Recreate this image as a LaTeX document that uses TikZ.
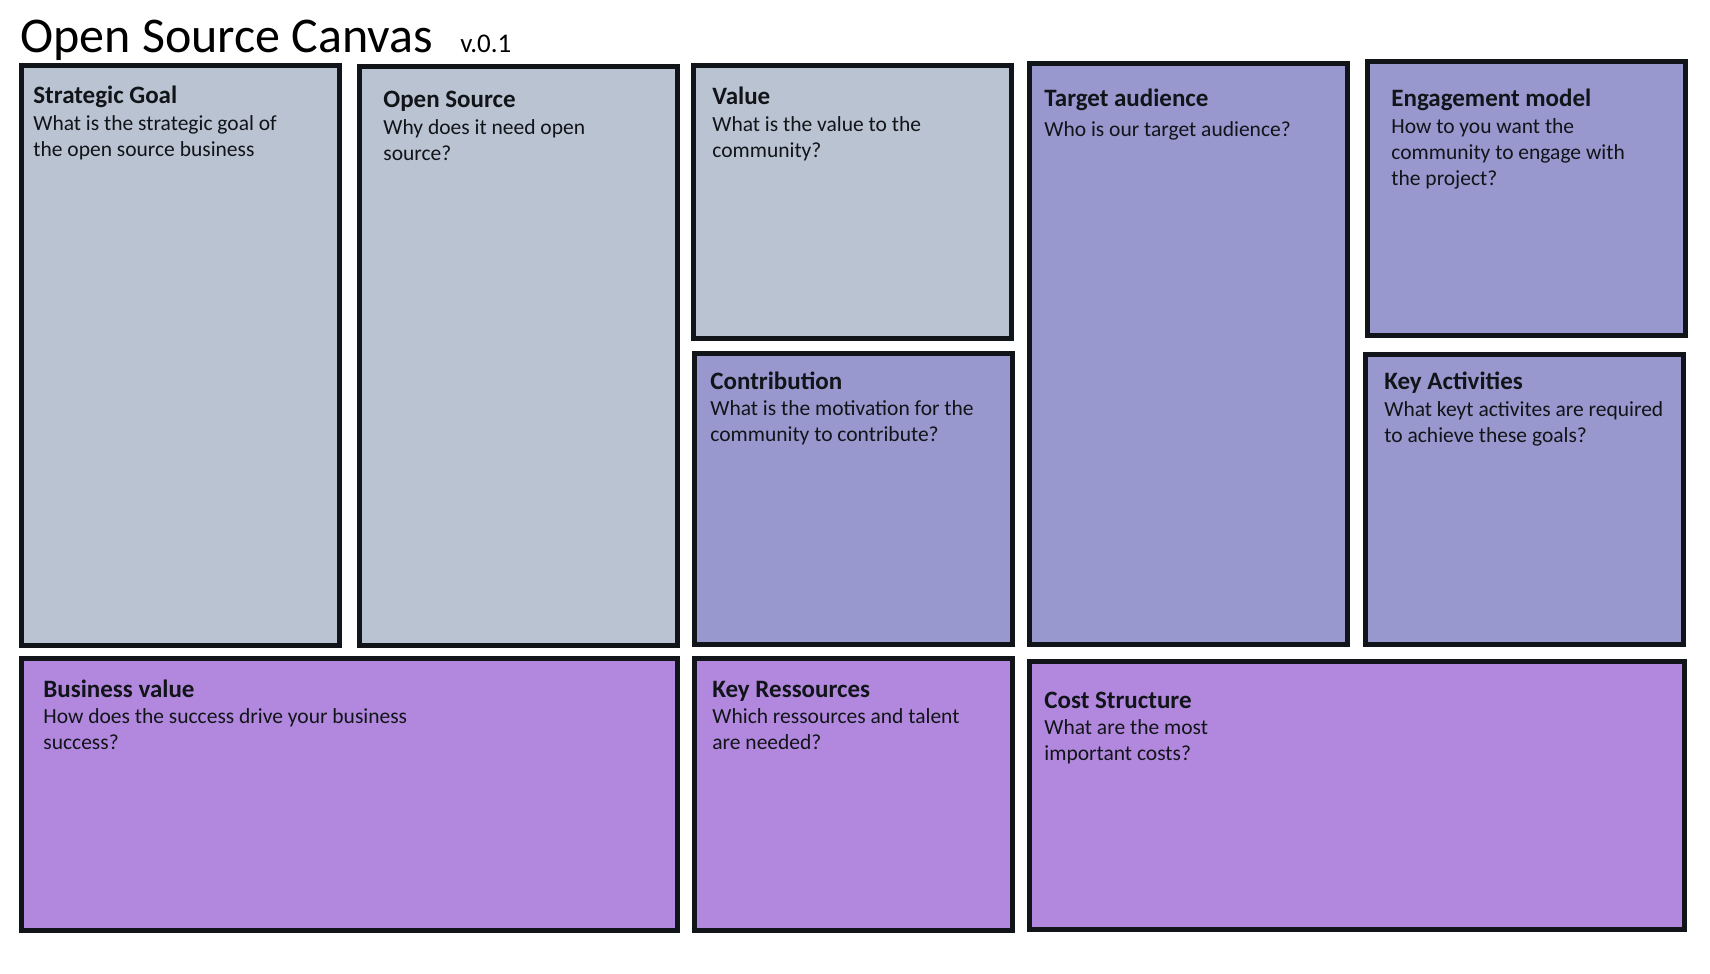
\documentclass[tikz,border=0pt]{standalone}
\usepackage{fontspec}
\setmainfont{Carlito}
\definecolor{ink}     {HTML}{111418}
\definecolor{slate}   {HTML}{BAC3D2}
\definecolor{lavender}{HTML}{9897CE}
\definecolor{orchid}  {HTML}{B288DE}
\begin{document}
\begin{tikzpicture}[
  x=0.5pt, y=0.5pt,
  panel/.style={draw=ink, line width=2.5pt, fill=#1},
  head/.style ={anchor=base west, inner sep=0pt, text=ink,
                font=\fontsize{12.5}{15}\selectfont\bfseries},
  ask/.style  ={anchor=north west, inner sep=0pt, align=left, text=ink,
                font=\fontsize{10.75}{13}\selectfont, execute at begin node=\strut},
]
  \useasboundingbox (0,0) rectangle (1710,-974);

  % --- title line -----------------------------------------------
  \node[anchor=base west, inner sep=0pt, font=\fontsize{25}{30}\selectfont]
    (title) at (20,-53) {Open Source Canvas};
  \node[anchor=base west, inner sep=0pt, font=\fontsize{13.5}{16}\selectfont]
    (version) at (460,-53) {v.0.1};

  % --- the ten panels (outer edges, in pixels) ------------------
  \foreach \xa/\ya/\xb/\yb/\c in {
      19/63/342/648/slate, 357/64/680/648/slate, 691/63/1014/341/slate,
      692/351/1015/647/lavender, 1027/61/1350/647/lavender,
      1365/59/1688/338/lavender, 1363/352/1686/647/lavender,
      19/656/680/933/orchid, 692/656/1015/933/orchid, 1027/659/1687/932/orchid}
    \draw[panel=\c] (\xa+2.5,-\ya-2.5) rectangle (\xb-2.5,-\yb+2.5);

  % --- headings and their questions -----------------------------
  \foreach \n/\x/\h/\t/\q in {
      sg/33/104/{Strategic Goal}/{What is the strategic goal of\\the open source business},
      os/383/107.5/{Open Source}/{Why does it need open\\source?},
      val/712/105/{Value}/{What is the value to the\\community?},
      con/710/389/{Contribution}/{What is the motivation for the\\community to contribute?},
      aud/1044/107/{Target audience}/{Who is our target audience?},
      eng/1391/107/{Engagement model}/{How to you want the\\community to engage with\\the project?},
      act/1384/389.5/{Key Activities}/{What keyt activites are required\\to achieve these goals?},
      biz/43/697/{Business value}/{How does the success drive your business\\success?},
      res/712/697/{Key Ressources}/{Which ressources and talent\\are needed?},
      cost/1044/708/{Cost Structure}/{What are the most\\important costs?}}
  {
    \node[head] (\n-t) at (\x,-\h) {\t};
    \node[ask]  (\n-q) at (\x,-\h-11.3) {\q};
  }
\end{tikzpicture}
\end{document}
